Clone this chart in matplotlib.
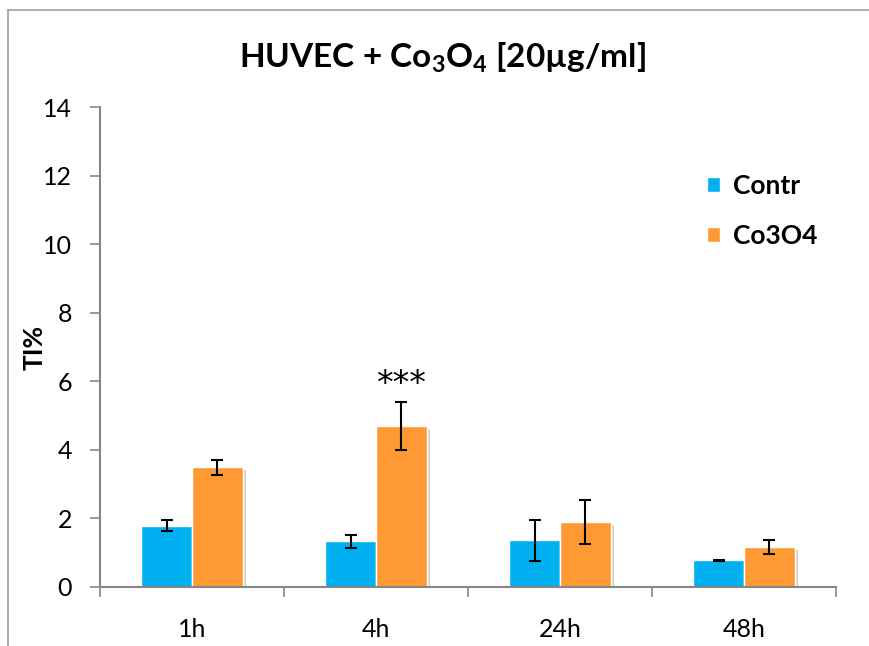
import matplotlib
matplotlib.use("Agg")
import matplotlib.pyplot as plt
import matplotlib.patheffects as pe
from matplotlib.lines import Line2D
import numpy as np

# data
categories = ["1h", "4h", "24h", "48h"]
contr = [1.79, 1.33, 1.36, 0.78]
contr_err = [0.15, 0.20, 0.60, 0.02]
co3o4 = [3.49, 4.70, 1.89, 1.16]
co3o4_err = [0.21, 0.70, 0.64, 0.21]
yticks = [0, 2, 4, 6, 8, 10, 12, 14]

plt.rcParams["font.family"] = ["Lato", "DejaVu Sans"]
plt.rcParams["mathtext.fontset"] = "custom"
plt.rcParams["mathtext.rm"] = "Lato"
plt.rcParams["mathtext.bf"] = "Lato:bold"

fig = plt.figure(figsize=(8.69, 6.46), dpi=100)
ax = fig.add_axes([100/869, 1-587/646, 736/869, (587-107)/646])

x = np.arange(len(categories))
w = 0.277
shadow = [pe.withSimplePatchShadow(offset=(2, -2), shadow_rgbFace="gray", alpha=0.35)]
ax.bar(x - w/2, contr, w, color="#00B0F0", edgecolor="white", linewidth=1,
       label="Contr", path_effects=shadow, zorder=2)
ax.bar(x + w/2, co3o4, w, color="#FF9933", edgecolor="white", linewidth=1,
       label="Co3O4", path_effects=shadow, zorder=2)
ax.errorbar(x - w/2, contr, yerr=contr_err, fmt="none", ecolor="black",
            elinewidth=1.5, capsize=4.5, capthick=1.5, zorder=3)
ax.errorbar(x + w/2, co3o4, yerr=co3o4_err, fmt="none", ecolor="black",
            elinewidth=1.5, capsize=4.5, capthick=1.5, zorder=3)

ax.text(1 + w/2, co3o4[1] + co3o4_err[1] + 0.5, "***", ha="center", va="center",
        fontsize=24, family="DejaVu Sans")

ax.set_xlim(-0.5, 3.5)
ax.set_ylim(0, 14)
ax.set_yticks(yticks)
ax.set_xticks(x)
ax.set_xticklabels(categories)
ax.set_xticks(np.arange(-0.5, 4, 1), minor=True)
ax.tick_params(axis="x", which="major", length=0, pad=22, labelsize=18)
ax.tick_params(axis="x", which="minor", length=7, color="#868686", width=1.2)
ax.tick_params(axis="y", length=7, color="#868686", width=1.2, pad=13, labelsize=18)
for s in ["top", "right"]:
    ax.spines[s].set_visible(False)
for s in ["left", "bottom"]:
    ax.spines[s].set_color("#868686")
    ax.spines[s].set_linewidth(1.5)

ax.set_ylabel("TI%", fontsize=19, fontweight="bold")
ax.yaxis.set_label_coords(-0.072, 0.5)

fig.text(442/869, 1-58/646, r"HUVEC + Co$_\mathbf{3}$O$_\mathbf{4}$ [20µg/ml]",
         ha="center", va="center", fontsize=24, fontweight="bold")

leg = ax.legend(loc="upper left", bbox_to_anchor=(683/869, 1-150/646),
                bbox_transform=fig.transFigure, frameon=False,
                handlelength=0.5, handleheight=0.5, handletextpad=0.5,
                labelspacing=1.0, prop={"weight": "bold", "size": 19})
for h in leg.legend_handles:
    h.set_path_effects([])

# outer chart border
fig.add_artist(Line2D([8/869, 8/869], [0, 1-10/646], transform=fig.transFigure,
                      color="#a0a0a0", linewidth=1.2))
fig.add_artist(Line2D([8/869, 1], [1-10/646, 1-10/646], transform=fig.transFigure,
                      color="#a0a0a0", linewidth=1.2))

fig.savefig("out.png", dpi=100)
